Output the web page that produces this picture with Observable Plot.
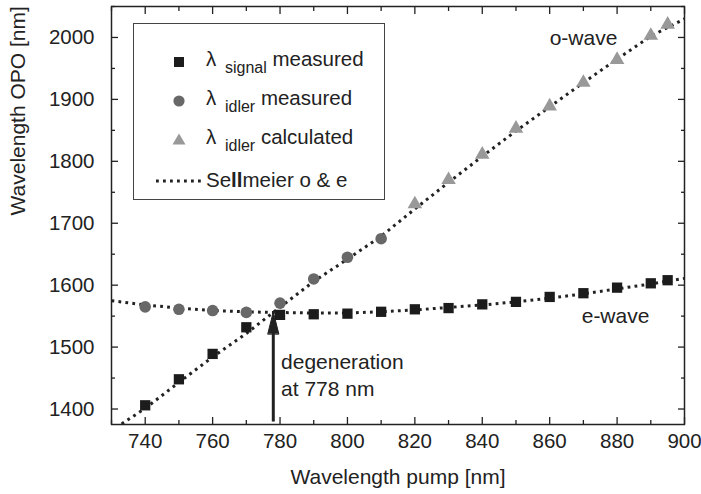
<!DOCTYPE html>
<html>
<head>
<meta charset="utf-8">
<script src="https://cdn.jsdelivr.net/npm/d3@7"></script>
<script src="https://cdn.jsdelivr.net/npm/@observablehq/plot@0.6"></script>
<style>
  body { margin: 0; background: #fff; }
  #wrap { position: relative; width: 701px; height: 494px; font-family: "Liberation Sans", Arial, sans-serif; color: #222; }
  #legend { position: absolute; left: 133px; top: 23px; width: 252px; height: 177px; border: 1px solid #444; box-sizing: border-box; background: #fff; }
  .row { position: absolute; left: 0; height: 24px; display: flex; align-items: center; font-size: 20.5px; white-space: nowrap; }
  .row .sym { width: 72px; height: 24px; position: relative; }
  .row sub { font-size: 16px; vertical-align: -7px; margin-left: 3px; }
</style>
</head>
<body>
<div id="wrap"></div>
<script>
// ---- data ----
const xDomain = [730, 900];
const yDomain = [1375, 2050];
const xMajor = [740, 760, 780, 800, 820, 840, 860, 880, 900];
const xMinor = [730, 750, 770, 790, 810, 830, 850, 870, 890];
const yMajor = [1400, 1500, 1600, 1700, 1800, 1900, 2000];
const yMinor = [1450, 1550, 1650, 1750, 1850, 1950, 2050];

const signalPump = [740, 750, 760, 770, 780, 790, 800, 810, 820, 830, 840, 850, 860, 870, 880, 890, 895];
const signalWl   = [1406, 1448, 1489, 1532, 1552, 1553, 1554, 1557, 1561, 1563, 1569, 1573, 1581, 1587, 1596, 1603, 1608];

const idlerMeasPump = [740, 750, 760, 770, 780, 790, 800, 810];
const idlerMeasWl   = [1565, 1561, 1559, 1556, 1571, 1610, 1645, 1675];

const idlerCalcPump = [820, 830, 840, 850, 860, 870, 880, 890, 895];
const idlerCalcWl   = [1731, 1770, 1811, 1853, 1889, 1927, 1964, 2003, 2021];

const oWavePump = [733, 740, 750, 760, 770, 778, 790, 800, 810, 820, 830, 840, 850, 860, 870, 880, 890, 900];
const oWaveWl   = [1376, 1401, 1443, 1484, 1522, 1556, 1606, 1642, 1679, 1723, 1766, 1808, 1849, 1888, 1927, 1965, 2002, 2030];

const eWavePump = [730, 740, 750, 760, 770, 778, 790, 800, 810, 820, 830, 840, 850, 860, 870, 880, 890, 900];
const eWaveWl   = [1575, 1568, 1563, 1559, 1557, 1556, 1555, 1555, 1557, 1560, 1564, 1568, 1573, 1579, 1586, 1594, 1602, 1611];

const degenPump = 778;
const arrowFromWl = 1379;
const arrowToWl = 1557;

const labels = [
  {x: 860, y: 2001, text: "o-wave"},
  {x: 869.5, y: 1552, text: "e-wave"},
  {x: 780.3, y: 1457, text: "degeneration\nat 778 nm"}
];

const xTitle = "Wavelength pump [nm]";
const yTitle = "Wavelength OPO [nm]";

// ---- build tables ----
const signal = signalPump.map((x, i) => ({x, y: signalWl[i]}));
const idlerMeas = idlerMeasPump.map((x, i) => ({x, y: idlerMeasWl[i]}));
const idlerCalc = idlerCalcPump.map((x, i) => ({x, y: idlerCalcWl[i]}));
const oWave = oWavePump.map((x, i) => ({x, y: oWaveWl[i]}));
const eWave = eWavePump.map((x, i) => ({x, y: eWaveWl[i]}));

const ink = "#222";
const dotted = {stroke: ink, strokeWidth: 3, strokeDasharray: "2.8,4.2", strokeLinecap: "butt"};

const headShape = {
  draw(context, l) {
    context.moveTo(-5.5, 0);
    context.lineTo(0, -l);
    context.lineTo(5.5, 0);
    context.closePath();
  }
};

const chart = Plot.plot({
  width: 701,
  height: 494,
  marginLeft: 111,
  marginRight: 17,
  marginTop: 6,
  marginBottom: 70,
  style: {fontFamily: "'Liberation Sans', Arial, sans-serif", color: ink, background: "#fff"},
  x: {domain: xDomain},
  y: {domain: yDomain},
  marks: [
    Plot.line(oWave, {x: "x", y: "y", ...dotted}),
    Plot.line(eWave, {x: "x", y: "y", ...dotted}),
    Plot.ruleX([degenPump], {y1: arrowFromWl, y2: arrowToWl - 25, stroke: ink, strokeWidth: 3}),
    Plot.vector([degenPump], {x: d => d, y: arrowToWl, length: 22, anchor: "end", shape: headShape, fill: ink, stroke: ink, strokeWidth: 1}),
    Plot.dot(signal, {x: "x", y: "y", symbol: "square", r: 5.8, fill: "#1c1c1c"}),
    Plot.dot(idlerMeas, {x: "x", y: "y", symbol: "circle", r: 5.8, fill: "#686868"}),
    Plot.dot(idlerCalc, {x: "x", y: "y", symbol: "triangle", r: 5.4, fill: "#999"}),
    Plot.text(labels, {x: "x", y: "y", text: "text", textAnchor: "start", fontSize: 21, lineHeight: 1.27, fill: ink}),
    // axes: labels
    Plot.axisX(xMajor, {anchor: "bottom", tickSize: 0, tickPadding: 9, fontSize: 20.5, label: null, tickFormat: d => String(d)}),
    Plot.axisY(yMajor, {anchor: "left", tickSize: 0, tickPadding: 17, fontSize: 20.5, label: null, tickFormat: d => String(d)}),
    // inward ticks on all four sides
    Plot.axisX(xMajor, {anchor: "bottom", tickSize: -7, text: null, label: null, strokeWidth: 1.3}),
    Plot.axisX(xMinor, {anchor: "bottom", tickSize: -4, text: null, label: null, strokeWidth: 1.3}),
    Plot.axisX(xMajor, {anchor: "top", tickSize: -7, text: null, label: null, strokeWidth: 1.3}),
    Plot.axisX(xMinor, {anchor: "top", tickSize: -4, text: null, label: null, strokeWidth: 1.3}),
    Plot.axisY(yMajor, {anchor: "left", tickSize: -7, text: null, label: null, strokeWidth: 1.3}),
    Plot.axisY(yMinor, {anchor: "left", tickSize: -4, text: null, label: null, strokeWidth: 1.3}),
    Plot.axisY(yMajor, {anchor: "right", tickSize: -7, text: null, label: null, strokeWidth: 1.3}),
    Plot.axisY(yMinor, {anchor: "right", tickSize: -4, text: null, label: null, strokeWidth: 1.3}),
    Plot.frame({stroke: ink, strokeWidth: 1.5}),
    // axis titles
    Plot.text([xTitle], {frameAnchor: "bottom", dy: 53, lineAnchor: "middle", fontSize: 21, fill: ink}),
    Plot.text([yTitle], {frameAnchor: "left", dx: -93, rotate: -90, lineAnchor: "middle", fontSize: 21, fill: ink})
  ]
});

const wrap = document.getElementById("wrap");
wrap.appendChild(chart);

// ---- legend (inside the plot area) ----
const legendItems = [
  {kind: "square", main: "λ", sub: "signal", rest: " measured"},
  {kind: "circle", main: "λ", sub: "idler", rest: " measured"},
  {kind: "triangle", main: "λ", sub: "idler", rest: " calculated"},
  {kind: "line", main: "Se", bold: "ll", rest: "meier o & e"}
];
const rowTops = [26, 65, 104, 144];
const legend = document.createElement("div");
legend.id = "legend";
legendItems.forEach((it, i) => {
  const row = document.createElement("div");
  row.className = "row";
  row.style.top = rowTops[i] + "px";
  let sym;
  if (it.kind === "square") sym = `<svg width="72" height="24"><rect x="40" y="7" width="10" height="10" fill="#1c1c1c"/></svg>`;
  if (it.kind === "circle") sym = `<svg width="72" height="24"><circle cx="45" cy="12" r="5.6" fill="#686868"/></svg>`;
  if (it.kind === "triangle") sym = `<svg width="72" height="24"><path d="M45,5.5L51.5,16.5L38.5,16.5Z" fill="#999"/></svg>`;
  if (it.kind === "line") sym = `<svg width="72" height="24"><line x1="22" x2="70" y1="13" y2="13" stroke="${ink}" stroke-width="3" stroke-dasharray="2.8,4.2"/></svg>`;
  let label;
  if (it.sub) label = `<span>${it.main} <sub>${it.sub}</sub>${it.rest}</span>`;
  else label = `<span>${it.main}<b>${it.bold}</b>${it.rest}</span>`;
  row.innerHTML = `<div class="sym">${sym}</div>${label}`;
  legend.appendChild(row);
});
wrap.appendChild(legend);
</script>
</body>
</html>
